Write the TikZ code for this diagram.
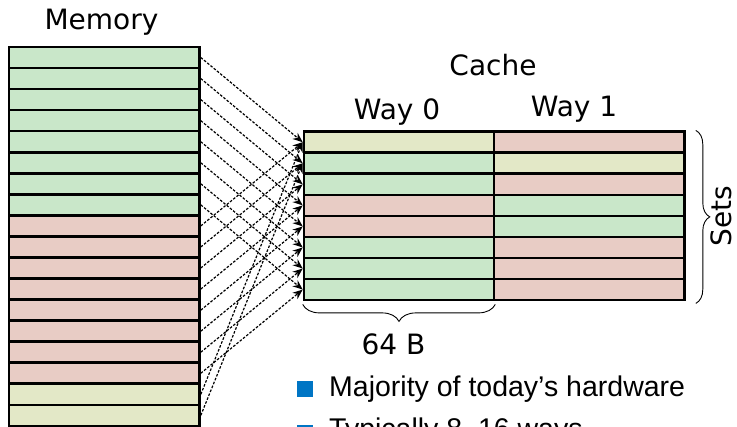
\documentclass[tikz,border=0pt]{standalone}
\usepackage{fontspec}
\setmainfont{DejaVu Sans}
\newfontfamily\bulletfont{Liberation Sans}
\usetikzlibrary{arrows.meta,decorations.pathreplacing}
\definecolor{cgreen}{HTML}{C9E7C9}
\definecolor{cpink}{HTML}{E8CCC5}
\definecolor{cyellow}{HTML}{E3E8C7}
\definecolor{cblue}{HTML}{0075C4}
\tikzset{
  cell/.style={draw=black, line width=2.6pt, rectangle, inner sep=0pt, minimum height=21.05pt},
  memcell/.style={cell, minimum width=190.5pt},
  cachecell/.style={cell, minimum width=190pt},
  conn/.style={line width=1.2pt, dash pattern=on 2.6pt off 1.6pt, -{Stealth[length=10pt,width=8pt]}},
  bigbrace/.style={line width=0.9pt, decorate, decoration={brace, amplitude=15pt}},
  lbl/.style={font=\fontsize{28}{30}\selectfont, inner sep=0pt, anchor=base},
  btxt/.style={font=\bulletfont\fontsize{28.5}{30}\selectfont, inner sep=0pt, anchor=base west},
  bsq/.style={fill=cblue, draw=none, rectangle, inner sep=0pt, minimum size=16pt},
}
\begin{document}
\begin{tikzpicture}[x=1pt,y=-1pt]
\useasboundingbox (0,0) rectangle (737,427);
\clip (0,0) rectangle (737,427);
% memory
\foreach \i/\c in {0/cgreen,1/cgreen,2/cgreen,3/cgreen,4/cgreen,5/cgreen,6/cgreen,7/cgreen,
  8/cpink,9/cpink,10/cpink,11/cpink,12/cpink,13/cpink,14/cpink,15/cpink,16/cyellow,17/cyellow}{
  \node[memcell, fill=\c] (m\i) at (104.25, {47+21.05*(\i+0.5)}) {};
}
% cache way 0
\foreach \j/\c in {0/cyellow,1/cgreen,2/cgreen,3/cpink,4/cpink,5/cgreen,6/cgreen,7/cgreen}{
  \node[cachecell, fill=\c] (c\j-0) at (399, {131.7+21.05*(\j+0.5)}) {};
}
% cache way 1
\foreach \j/\c in {0/cpink,1/cyellow,2/cpink,3/cgreen,4/cgreen,5/cpink,6/cpink,7/cpink}{
  \node[cachecell, minimum width=190.5pt, fill=\c] (c\j-1) at (589.25, {131.7+21.05*(\j+0.5)}) {};
}
% connectors
\foreach \i in {0,...,17}{
  \pgfmathtruncatemacro{\j}{mod(\i,8)}
  \draw[conn] (m\i.east) -- (c\j-0.west);
}
% labels
\node[lbl] (memlbl) at (101.5,29.3) {Memory};
\node[lbl] (cachelbl) at (493,75.7) {Cache};
\node[lbl] (way0) at (397,120) {Way 0};
\node[lbl] (way1) at (574,117) {Way 1};
% braces
\draw[bigbrace, decoration={amplitude=17pt}] ([yshift=-3pt]c7-0.south east) -- ([yshift=-3pt]c7-0.south west);
\node[lbl] (sz) at (393.5,355) {64 B};
\draw[bigbrace, decoration={amplitude=14pt}] ([xshift=10pt]c0-1.north east) -- ([xshift=10pt,yshift=-2pt]c7-1.south east);
\node[lbl, anchor=center, rotate=90] (sets) at (721.5,216.5) {Sets};
% bullets
\node[bsq] (b1) at (305,389) {};
\node[btxt] (t1) at (329,397) {Majority of today’s hardware};
\node[bsq] (b2) at (305,433) {};
\node[btxt] (t2) at (329,438.5) {Typically 8–16 ways};
\end{tikzpicture}
\end{document}
